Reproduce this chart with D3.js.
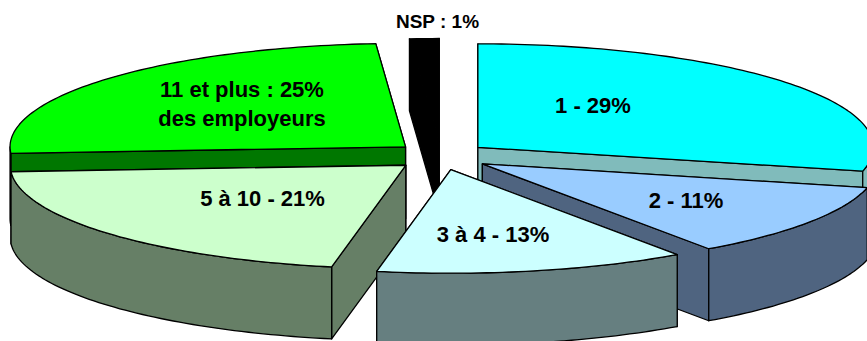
<!DOCTYPE html>
<html>
<head>
<meta charset="utf-8">
<script src="https://cdnjs.cloudflare.com/ajax/libs/d3/7.8.5/d3.min.js"></script>
<style>
html,body{margin:0;padding:0;background:#fff;overflow:hidden}
svg{display:block}
text{font-family:"Liberation Sans",Arial,sans-serif;font-weight:bold;fill:#000}
</style>
</head>
<body>
<div id="chart"></div>
<script>
// Data
const categories = ["1", "2", "3 à 4", "5 à 10", "11 et plus", "NSP"];
const shares = [28.7, 11.6, 12.7, 21, 24.8, 1.2];
const sliceLabels = [["1 - 29%"], ["2 - 11%"], ["3 à 4 - 13%"], ["5 à 10 - 21%"], ["11 et plus : 25%", "des employeurs"], ["NSP : 1%"]];
const topColors = ["#00FFFF", "#99CCFF", "#CCFFFF", "#CCFFCC", "#00FF00", "#000000"];
const sideColors = ["#80BBBB", "#4F6480", "#667F80", "#667F66", "#007700", "#000000"];

// Projection / layout (not data)
const W = 867, H = 341;
const cx = 441, cy = 156, rx = 395.5, ry = 103.5, depth = 72, explodeX = 47, explodeY = 14;
const apexNudgeX = [0, 2.5, 0, 0, 0, 0];
const labelCenters = [[593, 113], [686, 207.5], [493, 241.5], [262.5, 206], [242, 97], [437.5, 28]];
const labelSizes = [22, 22, 22, 22, 22, 19];
const lineGap = 29;
const paintOrder = [5, 0, 4, 1, 3, 2];

const svg = d3.select("#chart").append("svg").attr("width", W).attr("height", H).attr("viewBox", [0, 0, W, H]);
const arcs = d3.pie().sort(null).value(d => d).startAngle(0).endAngle(2 * Math.PI)(shares);
const unitX = d3.scaleLinear().domain([-1, 1]).range([-rx, rx]);
const unitY = d3.scaleLinear().domain([-1, 1]).range([ry, -ry]);
const line = d3.line();

function apex(a, i) {
  const mid = (a.startAngle + a.endAngle) / 2;
  return [cx + explodeX * Math.sin(mid) + apexNudgeX[i], cy - explodeY * Math.cos(mid)];
}
function rim(o, t, dy = 0) {
  return [o[0] + unitX(Math.sin(t)), o[1] + unitY(Math.cos(t)) + dy];
}
function rimPts(o, t0, t1, dy = 0) {
  const n = Math.max(2, Math.ceil((t1 - t0) / 0.02));
  return d3.range(n + 1).map(i => rim(o, t0 + (t1 - t0) * i / n, dy));
}
function face(g, pts, fill) {
  g.append("path").attr("d", line(pts) + "Z").attr("fill", fill)
    .attr("stroke", "#000").attr("stroke-width", 1.3).attr("stroke-linejoin", "round");
}

paintOrder.forEach(i => {
  const a = arcs[i], o = apex(a, i), g = svg.append("g").attr("class", "slice").attr("data-cat", categories[i]);
  const side = sideColors[i], top = topColors[i];
  const down = p => [p[0], p[1] + depth];
  const p0 = rim(o, a.startAngle), p1 = rim(o, a.endAngle);
  const cuts = [[o, p0, down(p0), down(o)], [o, p1, down(p1), down(o)]];
  cuts.sort((u, v) => u[1][1] - v[1][1]);
  cuts.forEach(c => face(g, c, side));
  const w0 = Math.max(a.startAngle, Math.PI / 2), w1 = Math.min(a.endAngle, 3 * Math.PI / 2);
  if (w1 > w0) {
    const upper = rimPts(o, w0, w1), lower = rimPts(o, w0, w1, depth).reverse();
    face(g, upper.concat(lower), side);
  }
  face(g, [o].concat(rimPts(o, a.startAngle, a.endAngle)), top);
});

sliceLabels.forEach((lines, i) => {
  lines.forEach((s, k) => {
    svg.append("text").attr("x", labelCenters[i][0]).attr("y", labelCenters[i][1] + k * lineGap)
      .attr("text-anchor", "middle").attr("font-size", labelSizes[i]).text(s);
  });
});
</script>
</body>
</html>
